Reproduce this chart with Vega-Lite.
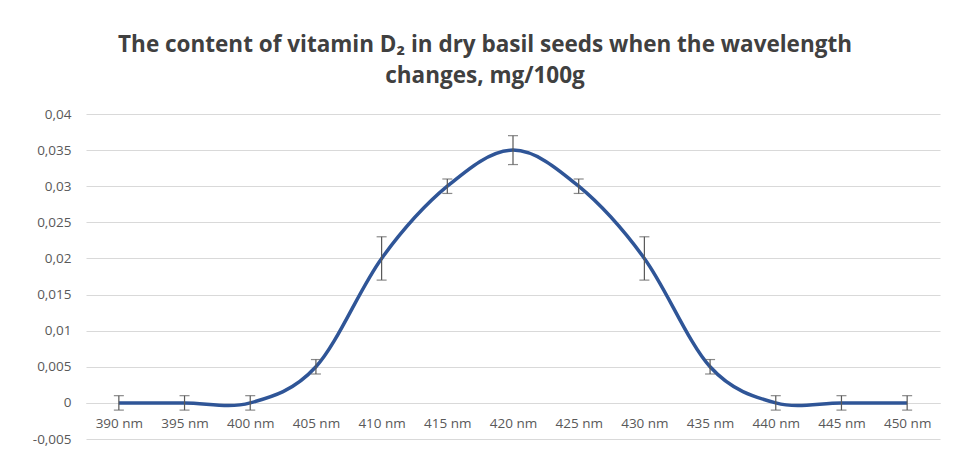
{
  "$schema": "https://vega.github.io/schema/vega-lite/v6.json",
  "autosize": "none",
  "width": 854,
  "height": 325,
  "padding": {"left": 86, "top": 114, "right": 13, "bottom": 20},
  "background": "white",
  "title": {
    "text": ["The content of vitamin D₂ in dry basil seeds when the wavelength", "changes, mg/100g"],
    "font": "Open Sans",
    "fontSize": 22.5,
    "fontWeight": "bold",
    "color": "#404040",
    "anchor": "middle",
    "dx": -28,
    "offset": 20,
    "lineHeight": 31
  },
  "config": {
    "view": {"stroke": null},
    "axis": {"labelFont": "Open Sans", "labelFontSize": 13.5, "labelColor": "#595959"}
  },
  "data": {
    "values": [
      {"wl": "390 nm", "v": 0, "err": 0.001},
      {"wl": "395 nm", "v": 0, "err": 0.001},
      {"wl": "400 nm", "v": 0, "err": 0.001},
      {"wl": "405 nm", "v": 0.005, "err": 0.001},
      {"wl": "410 nm", "v": 0.02, "err": 0.003},
      {"wl": "415 nm", "v": 0.03, "err": 0.001},
      {"wl": "420 nm", "v": 0.035, "err": 0.002},
      {"wl": "425 nm", "v": 0.03, "err": 0.001},
      {"wl": "430 nm", "v": 0.02, "err": 0.003},
      {"wl": "435 nm", "v": 0.005, "err": 0.001},
      {"wl": "440 nm", "v": 0, "err": 0.001},
      {"wl": "445 nm", "v": 0, "err": 0.001},
      {"wl": "450 nm", "v": 0, "err": 0.001}
    ]
  },
  "encoding": {
    "x": {
      "field": "wl", "type": "ordinal", "sort": null,
      "scale": {"type": "point", "padding": 0.5},
      "axis": {"title": null, "labelAngle": 0, "ticks": false, "offset": -36, "domainColor": "#d9d9d9", "labelPadding": 13, "grid": false}
    },
    "y": {
      "field": "v", "type": "quantitative",
      "scale": {"domain": [-0.005, 0.04], "nice": false, "zero": false},
      "axis": {
        "title": null, "domain": false, "ticks": false, "labelPadding": 15,
        "values": [-0.005, 0, 0.005, 0.01, 0.015, 0.02, 0.025, 0.03, 0.035, 0.04],
        "labelExpr": "replace(replace(format(datum.value, '~g'), '.', ','), '−', '-')",
        "gridColor": "#d9d9d9"
      }
    }
  },
  "layer": [
    {
      "mark": {"type": "line", "interpolate": "cardinal", "tension": 0, "color": "#2F5597", "strokeWidth": 3.5}
    },
    {
      "mark": {"type": "errorbar", "ticks": {"size": 10, "color": "#595959", "thickness": 1.2}, "rule": {"color": "#595959", "strokeWidth": 1.2}},
      "encoding": {
        "yError": {"field": "err"}
      }
    }
  ]
}
